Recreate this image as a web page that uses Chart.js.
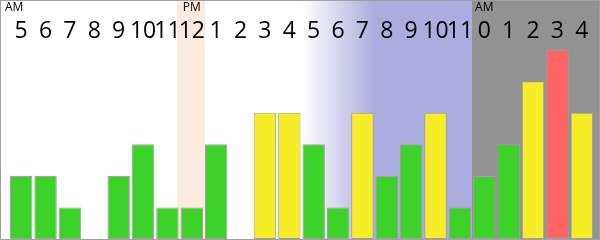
<!DOCTYPE html>
<html>
<head>
<meta charset="utf-8">
<script src="https://cdn.jsdelivr.net/npm/chart.js@4.4.1/dist/chart.umd.min.js"></script>
<style>
  html, body { margin: 0; padding: 0; background: #fff; }
  #wrap { width: 600px; height: 240px; position: relative; }
</style>
</head>
<body>
<div id="wrap"><canvas id="hours-chart" width="600" height="240"></canvas></div>
<script>
const hours = ['5', '6', '7', '8', '9', '10', '11', '12', '1', '2', '3', '4',
  '5', '6', '7', '8', '9', '10', '11', '0', '1', '2', '3', '4'];
const counts = [2, 2, 1, 0, 2, 3, 1, 1, 3, 0, 4, 4, 3, 1, 4, 2, 3, 4, 1, 2, 3, 5, 6, 4];
const markerIndex = [0, 7, 19];
const markerText = ['AM', 'PM', 'AM'];

function barColor(v) {
  if (v >= 6) return '#ff6464';
  if (v >= 4) return '#f8ee27';
  return '#3cd22a';
}

// background bands + frame
const bands = {
  id: 'bands',
  beforeDraw(c) {
    const ctx = c.ctx;
    const x = c.scales.x;
    const w = x.width / hours.length;
    const left = (i) => Math.round(x.getPixelForValue(i) - w / 2);
    const H = c.height;
    ctx.save();
    ctx.fillStyle = '#fff';
    ctx.fillRect(0, 0, c.width, H);

    // noon
    ctx.fillStyle = '#feebe0';
    ctx.fillRect(left(7) - 3, 0, Math.round(w) + 4, H);

    // evening fade
    ctx.fillStyle = '#acacde';
    ctx.fillRect(left(15) - 1, 0, left(19) - left(15) + 1, H);
    const g = ctx.createLinearGradient(left(12), 0, left(15), 0);
    g.addColorStop(0, 'rgba(172,172,222,0)');
    g.addColorStop(1, 'rgba(172,172,222,1)');
    ctx.fillStyle = g;
    ctx.fillRect(left(12), 0, left(15) - left(12), H);

    // night
    ctx.fillStyle = '#929292';
    ctx.fillRect(left(19), 0, c.width - left(19), H);

    // AM / PM
    ctx.fillStyle = '#000';
    ctx.font = '12px "Open Sans"';
    ctx.textBaseline = 'top';
    markerIndex.forEach((i, k) => {
      const tw = ctx.measureText(markerText[k]).width;
      const lx = i === 0 ? 5 : x.getPixelForValue(i) - tw / 2;
      ctx.fillText(markerText[k], lx, 2);
    });
    ctx.restore();
  },
  afterDraw(c) {
    const ctx = c.ctx;
    ctx.save();
    ctx.strokeStyle = '#a0a0a0';
    ctx.lineWidth = 2;
    ctx.strokeRect(0, 0, c.width, c.height);
    ctx.restore();
  }
};

new Chart(document.getElementById('hours-chart'), {
  type: 'bar',
  data: {
    labels: hours,
    datasets: [{
      data: counts,
      backgroundColor: counts.map(barColor),
      borderColor: '#a0a0a0',
      borderWidth: 1,
      borderSkipped: false,
      barPercentage: 0.92,
      categoryPercentage: 1
    }]
  },
  options: {
    responsive: false,
    animation: false,
    layout: { padding: { left: 9, right: 6, top: 0, bottom: 1 } },
    plugins: { legend: { display: false }, tooltip: { enabled: false } },
    scales: {
      x: {
        position: 'top',
        grid: { display: false, drawTicks: false },
        border: { display: false },
        ticks: {
          color: '#000',
          font: { family: 'Open Sans', size: 23 },
          autoSkip: false,
          maxRotation: 0,
          padding: 0
        },
        afterFit(s) { s.height = 45; }
      },
      y: {
        display: false,
        min: 0,
        max: 6.15
      }
    }
  },
  plugins: [bands]
});
</script>
</body>
</html>
